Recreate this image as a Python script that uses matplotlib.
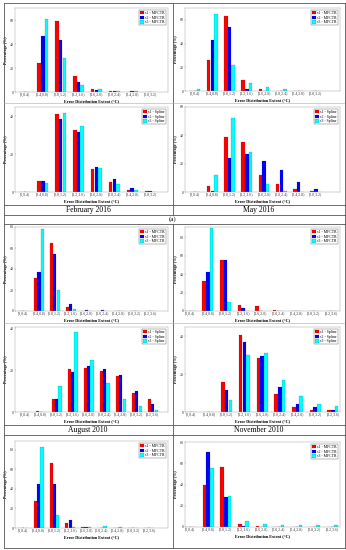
import numpy as np
import matplotlib
matplotlib.use("Agg")
import matplotlib.pyplot as plt
from matplotlib.lines import Line2D

plt.rcParams['font.family'] = ['Liberation Serif', 'DejaVu Serif']

W, H = 346, 550

cats8 = ['(0,0.4)', '[0.4,0.8)', '[0.8,1.2)', '[1.2,1.6)', '[1.6,2.0)',
         '[2.0,2.4)', '[2.4,2.8)', '[2.8,3.2)']
cats9 = cats8 + ['[3.2,3.6)']

# percentages per error bin, rows are s1, s2, s3
feb16_mfctr = [[0, 24, 59, 13.5, 2.8, 1.0, 0.3, 0.2],
               [0, 47, 43, 8.0, 1.8, 0.7, 0.5, 0.1],
               [0, 61, 28, 6.0, 2.7, 1.1, 0.8, 0.3]]
may16_mfctr = [[0, 26, 63, 9.0, 1.5, 0.2, 0, 0],
               [0, 43, 54, 2.0, 0.3, 0.1, 0.2, 0],
               [1.8, 65, 22, 6.5, 3.0, 1.5, 0, 0]]
feb16_spline = [[0, 6.0, 41.5, 33, 12, 5.5, 1.0, 0.3],
                [0, 6.0, 38.5, 32, 13, 6.7, 2.3, 0.4],
                [0, 5.0, 42, 35, 12.8, 4.0, 1.0, 0.2]]
may16_spline = [[0, 4.0, 39, 35.5, 12, 6.0, 2.0, 0.8],
                [0, 1.0, 24, 27, 22, 15.5, 7.0, 2.0],
                [0, 12, 52, 28, 5.5, 1.0, 0.3, 0.2]]
aug10_mfctr = [[0, 31, 65, 4.0, 0.3, 0, 0, 0, 0],
               [0, 37.5, 54, 7.0, 0.5, 0.6, 0, 0, 0],
               [0, 78, 20, 1.5, 0.3, 0, 0.1, 0, 0]]
nov10_mfctr = [[0, 33, 55, 6.0, 5.0, 1.5, 0.1, 0, 0],
               [0, 42, 55, 3.0, 0.3, 0, 0.1, 0, 0],
               [0, 90, 10, 0.5, 0, 0, 0, 0, 0]]
aug10_spline = [[0, 0.3, 6.0, 20.5, 21, 19.5, 17, 9.0, 6.0],
                [0, 0.2, 6.3, 19, 22, 20.5, 17.5, 10, 4.0],
                [0, 0, 12.5, 38, 25, 14, 6.0, 3.0, 1.0]]
nov10_spline = [[0, 0.2, 16, 41, 28.5, 9.5, 2.5, 1.0, 1.0],
                [0, 0.2, 11.5, 37, 29.5, 13, 4.0, 2.5, 1.0],
                [0, 0.1, 6.5, 30, 31, 17, 8.5, 4.0, 3.0]]
row5_left_mfctr = [[0, 28, 66, 5.0, 1.5, 0, 0, 0, 0],
                   [0, 45.5, 45.5, 8.5, 0.8, 0.3, 0, 0, 0],
                   [0, 82.5, 13, 1.0, 1.0, 2.0, 1.0, 0.5, 0]]
row5_right_mfctr = [[0, 40, 56.5, 3.0, 0.5, 0.3, 0, 0, 0],
                    [0, 71, 28, 1.0, 0, 0, 0, 0, 0],
                    [0, 55.5, 29, 6.0, 2.5, 2.0, 2.0, 2.0, 1.5]]

colors = ['#ff0000', '#0000ff', '#00ffff']

fig = plt.figure(figsize=(W / 100, H / 100), dpi=100)
fig.patch.set_facecolor('white')


def panel(box, cats, vals, method, ylim, yticks, xlim):
    l, t, r, b = box
    ax = fig.add_axes([l / W, 1 - b / H, (r - l) / W, (b - t) / H])
    x = np.arange(len(cats))
    for i, v in enumerate(vals):
        ax.bar(x + (i - 1) * 0.21, v, 0.2, color=colors[i],
               edgecolor='#222222', linewidth=0.1,
               label='s%d - %s' % (i + 1, method))
    ax.set_xlim(*xlim)
    ax.set_ylim(*ylim)
    ax.set_xticks(x)
    ax.set_xticklabels(cats, fontsize=2.8)
    ax.set_yticks(yticks)
    ax.set_yticklabels([str(v) for v in yticks], fontsize=2.9)
    ax.tick_params(direction='in', length=1, width=0.2, pad=1, colors='#333333')
    for s in ax.spines.values():
        s.set_linewidth(0.3)
        s.set_color('#999999')
    ax.set_ylabel('Percentage (%)', fontsize=3, fontweight='bold', labelpad=1.5)
    ax.set_xlabel('Error Distribution Extent (°C)', fontsize=3.1,
                  fontweight='bold', labelpad=1)
    leg = ax.legend(loc='upper right', fontsize=2.8, handlelength=1.1,
                    handleheight=0.9, borderpad=0.3, labelspacing=0.15,
                    handletextpad=0.2, fancybox=False, borderaxespad=0.5)
    leg.get_frame().set_linewidth(0.3)
    leg.get_frame().set_edgecolor('#333333')
    return ax


panel((15, 8, 168, 92), cats8, feb16_mfctr, 'MFCTR', (0, 70), [0, 20, 40, 60], (-0.55, 8.0))
panel((185, 8, 340, 91), cats8, may16_mfctr, 'MFCTR', (0, 70), [0, 20, 40, 60], (-0.58, 8.4))
panel((15, 107, 168, 192), cats8, feb16_spline, 'Spline', (0, 45), [0, 20, 40], (-0.55, 8.0))
panel((185, 107, 340, 192), cats8, may16_spline, 'Spline', (0, 60), [0, 20, 40, 60], (-0.58, 8.4))
panel((15, 227, 168, 311), cats9, aug10_mfctr, 'MFCTR', (0, 80), [0, 20, 40, 60, 80], (-0.5, 9.1))
panel((185, 227, 340, 311), cats9, nov10_mfctr, 'MFCTR', (0, 91), [0, 20, 40, 60, 80], (-0.3, 8.5))
panel((15, 327, 168, 412), cats9, aug10_spline, 'Spline', (0, 40.5), [0, 20, 40], (-0.6, 8.95))
panel((185, 327, 340, 412), cats9, nov10_spline, 'Spline', (0, 45), [0, 20, 40], (-0.35, 8.4))
panel((15, 441, 168, 528), cats9, row5_left_mfctr, 'MFCTR', (0, 89), [0, 20, 40, 60, 80], (-0.5, 9.2))
panel((185, 442, 340, 527), cats9, row5_right_mfctr, 'MFCTR', (0, 80), [0, 20, 40, 60, 80], (-0.3, 8.45))


def hline(y, x0=4, x1=345, color='#555555', lw=0.6):
    fig.add_artist(Line2D([x0 / W, x1 / W], [1 - y / H, 1 - y / H],
                          transform=fig.transFigure, color=color, lw=lw))


def vline(x, y0, y1, color='#555555', lw=0.6):
    fig.add_artist(Line2D([x / W, x / W], [1 - y0 / H, 1 - y1 / H],
                          transform=fig.transFigure, color=color, lw=lw))


# table frame
hline(3)
hline(548)
vline(4, 3, 548)
vline(345, 3, 548)
vline(173, 3, 215)
vline(173, 224, 548)
for y in (205, 215, 224, 425, 435):
    hline(y)
for y in (103, 323):
    hline(y, color='#aaaaaa', lw=0.4)

fig.text(88 / W, 1 - 210 / H, 'February 2016', ha='center', va='center', fontsize=5.5)
fig.text(259 / W, 1 - 210 / H, 'May 2016', ha='center', va='center', fontsize=5.5)
fig.text(173 / W, 1 - 219.5 / H, '(a)', ha='center', va='center', fontsize=5)
fig.text(88 / W, 1 - 430 / H, 'August 2010', ha='center', va='center', fontsize=5.5)
fig.text(259 / W, 1 - 430 / H, 'November 2010', ha='center', va='center', fontsize=5.5)

fig.savefig('out.png', dpi=100)
